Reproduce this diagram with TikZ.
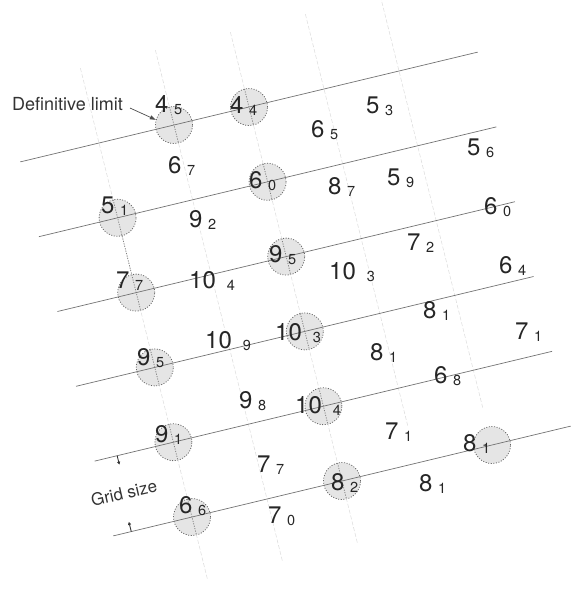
\documentclass[tikz,border=0pt]{standalone}
\usepackage{fontspec}
\setmainfont{TeX Gyre Heros}
\usetikzlibrary{arrows.meta,calc}
\newcommand\vlab[3][5.5pt]{\fontsize{24}{24}\selectfont #2\hspace{#1}\raisebox{-2.5pt}{\fontsize{14.5}{14.5}\selectfont #3}}
\tikzset{
  hline/.style={draw=black!55, line width=0.7pt},
  vline/.style={draw=black!14, line width=0.5pt, dash pattern=on 4pt off 2pt},
  vdark/.style={draw=black!50, line width=0.8pt, dash pattern=on 1pt off 1.5pt},
  limcirc/.style={circle, minimum size=37pt, inner sep=0pt, fill=black!10, draw=black!60, line width=0.8pt, dash pattern=on 1pt off 1.6pt},
  vallab/.style={anchor=base west, inner sep=0pt, text=black!85},
  notelab/.style={inner sep=0pt, text=black!80},
  dimtick/.style={draw=black!80, line width=0.9pt, -{Triangle[length=3pt,width=3pt]}},
  pointer/.style={draw=black!70, line width=0.7pt, -{Triangle[length=6pt,width=4pt]}}
}
\begin{document}
\begin{tikzpicture}[x=1pt, y=-1pt]
\useasboundingbox (0,0) rectangle (572,592);
\begin{scope}[shift={(99,143)}, x={(75pt,18pt)}, y={(18.6pt,-74.8pt)}]
  % circles (definitive limit)
  \node[limcirc] (c10) at (1,0) {};
  \node[limcirc] (c20) at (2,0) {};
  \node[limcirc] (c01) at (0,1) {};
  \node[limcirc] (c21) at (2,1) {};
  \node[limcirc] (c02) at (0,2) {};
  \node[limcirc] (c22) at (2,2) {};
  \node[limcirc] (c03) at (0,3) {};
  \node[limcirc] (c23) at (2,3) {};
  \node[limcirc] (c04) at (0,4) {};
  \node[limcirc] (c24) at (2,4) {};
  \node[limcirc] (c05) at (0,5) {};
  \node[limcirc] (c25) at (2,5) {};
  \node[limcirc] (c45) at (4,5) {};
  % grid lines
  \foreach \i/\e in {0/5.85,1/5.85,2/5.85,3/4.5,4/4.5}{
    \coordinate (Va\i) at (\i,-1);
    \coordinate (Vb\i) at (\i,\e);
    \draw[vline] (Va\i) -- (Vb\i);
  }
  \foreach \j in {0,...,5}{
    \coordinate (La\j) at (-1.05,\j);
    \coordinate (Lb\j) at (5.05,\j);
    \draw[hline] (La\j) -- (Lb\j);
  }
  % darker dotted parts of the vertical lines
  \draw[vdark] (c01) -- (c02);
  \foreach \c in {c10,c20,c01,c21,c02,c22,c03,c23,c04,c24,c05,c25}{
    \draw[vdark] ($(\c)+(0,-0.24)$) -- ($(\c)+(0,0.24)$);
  }
  % grid size ticks
  \coordinate (tk1a) at (-0.75,4);
  \coordinate (tk1b) at (-0.75,4.12);
  \coordinate (tk2a) at (-0.81,5);
  \coordinate (tk2b) at (-0.81,4.87);
  \draw[dimtick] (tk1a) -- (tk1b);
  \draw[dimtick] (tk2a) -- (tk2b);
\end{scope}

% values
\node[vallab] (v1)  at (155,112) {\vlab{4}{5}};
\node[vallab] (v2)  at (230,113) {\vlab{4}{4}};
\node[vallab] (v3)  at (366,113) {\vlab{5}{3}};
\node[vallab] (v4)  at (311,137) {\vlab{6}{5}};
\node[vallab] (v5)  at (168,173) {\vlab{6}{7}};
\node[vallab] (v6)  at (249,188) {\vlab{6}{0}};
\node[vallab] (v7)  at (328,194) {\vlab{8}{7}};
\node[vallab] (v8)  at (387,185) {\vlab{5}{9}};
\node[vallab] (v9)  at (467,155) {\vlab{5}{6}};
\node[vallab] (v10) at (101,213) {\vlab{5}{1}};
\node[vallab] (v11) at (189,227) {\vlab{9}{2}};
\node[vallab] (v12) at (484,214) {\vlab{6}{0}};
\node[vallab] (v13) at (116,288) {\vlab{7}{7}};
\node[vallab] (v14) at (189,288) {\vlab[11pt]{10}{4}};
\node[vallab] (v15) at (269,262) {\vlab{9}{5}};
\node[vallab] (v16) at (329,279) {\vlab[11pt]{10}{3}};
\node[vallab] (v17) at (407,250) {\vlab{7}{2}};
\node[vallab] (v18) at (499,273) {\vlab{6}{4}};
\node[vallab] (v19) at (137,365) {\vlab{9}{5}};
\node[vallab] (v20) at (205,348) {\vlab[11pt]{10}{9}};
\node[vallab] (v21) at (275,340) {\vlab[11pt]{10}{3}};
\node[vallab] (v22) at (423,318) {\vlab{8}{1}};
\node[vallab] (v23) at (515,339) {\vlab{7}{1}};
\node[vallab] (v24) at (370,360) {\vlab{8}{1}};
\node[vallab] (v25) at (434,383) {\vlab{6}{8}};
\node[vallab] (v26) at (239,408) {\vlab{9}{8}};
\node[vallab] (v27) at (295,413) {\vlab[11pt]{10}{4}};
\node[vallab] (v28) at (155,442) {\vlab{9}{1}};
\node[vallab] (v29) at (385,439) {\vlab{7}{1}};
\node[vallab] (v30) at (463,451) {\vlab{8}{1}};
\node[vallab] (v31) at (257,472) {\vlab{7}{7}};
\node[vallab] (v32) at (331,490) {\vlab{8}{2}};
\node[vallab] (v33) at (419,491) {\vlab{8}{1}};
\node[vallab] (v34) at (179,513) {\vlab{6}{6}};
\node[vallab] (v35) at (268,523) {\vlab{7}{0}};

% notes
\node[notelab, anchor=base west, font=\fontsize{18}{18}\selectfont] (deflim) at (12,110) {Definitive limit};
\node[notelab, rotate=13, font=\fontsize{17}{17}\selectfont] (gridsize) at (124,493) {Grid size};
\draw[pointer] ([shift={(7,4.5)}]deflim.east) -- (c10.164);
\end{tikzpicture}
\end{document}
